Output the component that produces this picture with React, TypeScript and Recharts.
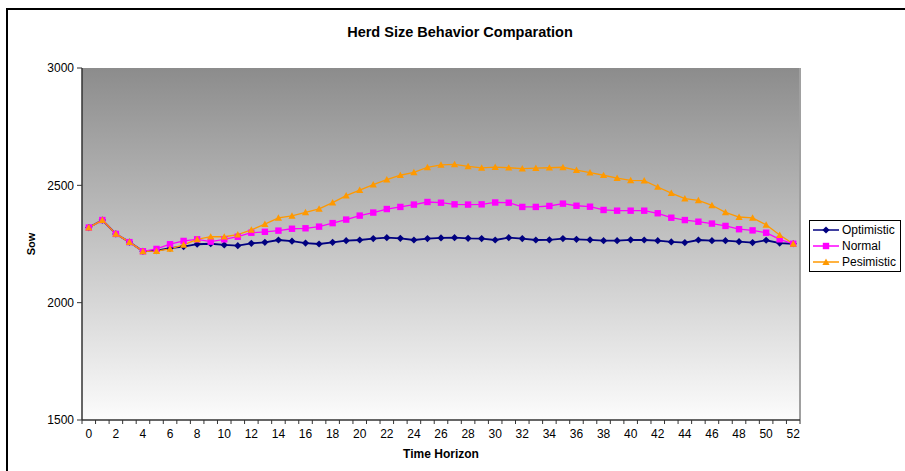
import { CartesianGrid, Legend, Line, LineChart, ReferenceLine, XAxis, YAxis } from "recharts";

const weeks = [
  0, 1, 2, 3, 4, 5, 6, 7, 8, 9, 10, 11, 12, 13, 14, 15, 16, 17, 18, 19, 20, 21, 22, 23, 24, 25, 26,
  27, 28, 29, 30, 31, 32, 33, 34, 35, 36, 37, 38, 39, 40, 41, 42, 43, 44, 45, 46, 47, 48, 49, 50, 51, 52,
];

const optimistic = [
  2320, 2352, 2293, 2258, 2219, 2222, 2232, 2239, 2249, 2251, 2246, 2243, 2253, 2257, 2267, 2262, 2254,
  2250, 2257, 2264, 2267, 2273, 2277, 2274, 2267, 2273, 2276, 2277, 2274, 2273, 2267, 2277, 2273, 2267,
  2268, 2273, 2270, 2268, 2264, 2264, 2268, 2267, 2264, 2259, 2256, 2267, 2264, 2264, 2260, 2256, 2266,
  2254, 2251,
];

const normal = [
  2320, 2352, 2293, 2258, 2219, 2229, 2249, 2263, 2270, 2260, 2270, 2281, 2298, 2302, 2307, 2315, 2317,
  2324, 2339, 2354, 2371, 2384, 2399, 2408, 2418, 2429, 2426, 2419, 2418, 2419, 2427, 2426, 2408, 2408,
  2412, 2422, 2413, 2409, 2395, 2392, 2392, 2392, 2381, 2362, 2352, 2345, 2337, 2327, 2313, 2308, 2298,
  2270, 2251,
];

const pesimistic = [
  2320, 2352, 2293, 2258, 2219, 2220, 2229, 2246, 2270, 2281, 2281, 2290, 2310, 2335, 2361, 2370, 2385,
  2400, 2426, 2456, 2480, 2503, 2524, 2543, 2555, 2577, 2587, 2589, 2581, 2574, 2578, 2575, 2571, 2573,
  2575, 2577, 2565, 2554, 2543, 2531, 2521, 2520, 2493, 2467, 2443, 2436, 2415, 2385, 2365, 2361, 2332,
  2288, 2251,
];

const yTicks = [1500, 2000, 2500, 3000];

const series = [
  { key: "optimistic", name: "Optimistic", color: "#000080", shape: "diamond" },
  { key: "normal", name: "Normal", color: "#ff00ff", shape: "square" },
  { key: "pesimistic", name: "Pesimistic", color: "#ff9900", shape: "triangle" },
];

const CHART_W = 905;
const CHART_H = 471;
const MARGIN = { top: 68, right: 105, bottom: 0, left: 10 };
const Y_AXIS_W = 72;
const X_AXIS_H = 51;
const PLOT_W = CHART_W - MARGIN.left - MARGIN.right - Y_AXIS_W;
const BAND = PLOT_W / weeks.length;
const FONT = '"Liberation Sans", Arial, sans-serif';

const data = weeks.map((w, i) => ({
  week: w,
  optimistic: optimistic[i],
  normal: normal[i],
  pesimistic: pesimistic[i],
}));

// tick marks sit between categories, like Excel's category axis
const xTickMarks = [...weeks.map((w) => w - 0.5), weeks[weeks.length - 1] + 0.5];

function marker(shape: string, cx: number, cy: number, color: string) {
  if (shape === "diamond") {
    const r = 3.6;
    return <path d={`M${cx},${cy - r}L${cx + r},${cy}L${cx},${cy + r}L${cx - r},${cy}Z`} fill={color} />;
  }
  if (shape === "square") {
    const r = 3.2;
    return <rect x={cx - r} y={cy - r} width={r * 2} height={r * 2} fill={color} />;
  }
  const r = 3.6;
  return <path d={`M${cx},${cy - r}L${cx + r},${cy + r * 0.8}L${cx - r},${cy + r * 0.8}Z`} fill={color} />;
}

function makeDot(shape: string, color: string) {
  return (props: any) => {
    const { cx, cy, index } = props;
    if (cx == null || cy == null) return <g key={`e-${index}`} />;
    return <g key={`${shape}-${index}`}>{marker(shape, cx, cy, color)}</g>;
  };
}

function XTick(props: any) {
  const { x, y, payload } = props;
  const week = payload.value + 0.5;
  if (week % 2 !== 0 || week > weeks[weeks.length - 1]) return <g />;
  return (
    <text x={x + BAND / 2} y={y} dy="0.75em" textAnchor="middle" fontSize={12} fill="#000" fontFamily={FONT}>
      {week}
    </text>
  );
}

function LegendBox() {
  return (
    <div
      style={{
        border: "1px solid #000",
        background: "#fff",
        padding: "1px 4px 1px 3px",
        fontSize: 12,
        lineHeight: "16px",
        fontFamily: FONT,
        color: "#000",
      }}
    >
      {series.map((s) => (
        <div key={s.key} style={{ display: "flex", alignItems: "center", whiteSpace: "nowrap" }}>
          <svg width={26} height={10} style={{ display: "block" }}>
            <line x1={0} y1={5} x2={26} y2={5} stroke={s.color} strokeWidth={1.5} />
            {marker(s.shape, 13, 5, s.color)}
          </svg>
          <span style={{ marginLeft: 3 }}>{s.name}</span>
        </div>
      ))}
    </div>
  );
}

export default function App() {
  return (
    <div
      style={{
        position: "absolute",
        left: 0,
        top: 0,
        width: CHART_W,
        height: CHART_H,
        overflow: "hidden",
        background: "#fff",
        fontFamily: FONT,
      }}
    >
      <div
        style={{
          position: "absolute",
          left: 6,
          top: 8,
          width: CHART_W,
          height: CHART_H,
          border: "2px solid #000",
        }}
      />
      <div
        style={{
          position: "absolute",
          left: 0,
          width: 920,
          top: 24,
          textAlign: "center",
          fontSize: 14.5,
          fontWeight: "bold",
          color: "#000",
        }}
      >
        Herd Size Behavior Comparation
      </div>
      <LineChart width={CHART_W} height={CHART_H} data={data} margin={MARGIN} style={{ position: "absolute", left: 0, top: 0 }}>
        <defs>
          <linearGradient id="plotBg" x1="0" y1="0" x2="0" y2="1">
            <stop offset="0%" stopColor="#8c8c8c" />
            <stop offset="100%" stopColor="#fcfcfc" />
          </linearGradient>
        </defs>
        <CartesianGrid horizontal={false} vertical={false} fill="url(#plotBg)" />
        <XAxis
          dataKey="week"
          type="number"
          domain={[-0.5, 52.5]}
          ticks={xTickMarks}
          interval={0}
          height={X_AXIS_H}
          tickSize={4}
          tickMargin={5}
          tick={<XTick />}
          axisLine={{ stroke: "#333", strokeWidth: 1.5 }}
          tickLine={{ stroke: "#333" }}
          label={{
            value: "Time Horizon",
            position: "insideBottom",
            offset: 13,
            fontSize: 12,
            fontWeight: "bold",
            fill: "#000",
            fontFamily: FONT,
          }}
        />
        <YAxis
          domain={[1500, 3000]}
          ticks={yTicks}
          width={Y_AXIS_W}
          tickSize={5}
          tickMargin={3}
          tick={{ fontSize: 12, fill: "#000", fontFamily: FONT }}
          axisLine={{ stroke: "#333", strokeWidth: 1.5 }}
          tickLine={{ stroke: "#333" }}
          label={(props: any) => {
            const vb = props.viewBox || { x: MARGIN.left, y: MARGIN.top, height: 352 };
            const cx = vb.x + 21;
            const cy = vb.y + vb.height / 2;
            return (
              <text
                x={cx}
                y={cy}
                transform={`rotate(-90 ${cx} ${cy})`}
                textAnchor="middle"
                dominantBaseline="central"
                fontSize={11}
                fontWeight="bold"
                fill="#000"
                fontFamily={FONT}
              >
                Sow
              </text>
            );
          }}
        />
        <ReferenceLine x={52.5} stroke="#a0a0a0" strokeWidth={2} />
        {series.map((s) => (
          <Line
            key={s.key}
            dataKey={s.key}
            name={s.name}
            type="linear"
            stroke={s.color}
            strokeWidth={s.key === "optimistic" ? 1.8 : 1.3}
            dot={makeDot(s.shape, s.color)}
            activeDot={false}
            isAnimationActive={false}
          />
        ))}
        <Legend
          layout="vertical"
          align="center"
          verticalAlign="middle"
          content={<LegendBox />}
          wrapperStyle={{ left: 809, top: 220, width: "auto", height: "auto" }}
        />
      </LineChart>
    </div>
  );
}
